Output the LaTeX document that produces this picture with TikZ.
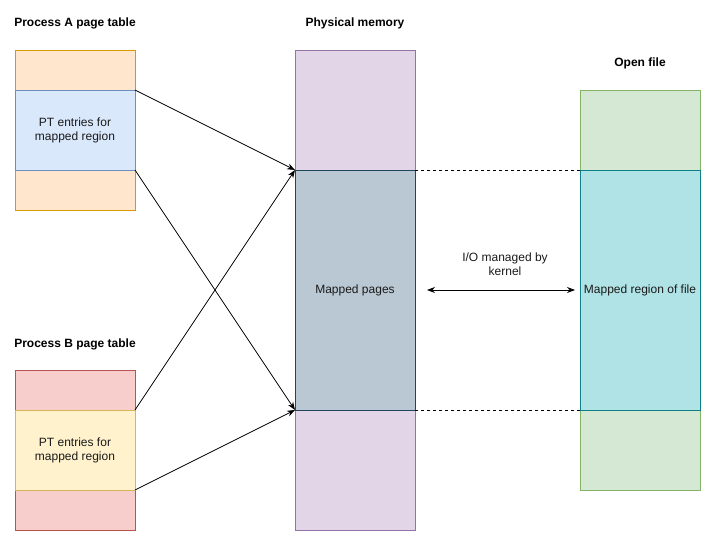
\documentclass[tikz,border=0pt]{standalone}
\usepackage{fontspec}
\setmainfont{Liberation Sans}
\usetikzlibrary{arrows.meta}
\definecolor{orfill}{HTML}{FFE6CC}\definecolor{orline}{HTML}{D79B00}
\definecolor{blfill}{HTML}{DAE8FC}\definecolor{blline}{HTML}{6C8EBF}
\definecolor{rdfill}{HTML}{F8CECC}\definecolor{rdline}{HTML}{B85450}
\definecolor{ylfill}{HTML}{FFF2CC}\definecolor{ylline}{HTML}{D6B656}
\definecolor{pufill}{HTML}{E1D5E7}\definecolor{puline}{HTML}{9673A6}
\definecolor{gyfill}{HTML}{BAC8D3}\definecolor{gyline}{HTML}{23445D}
\definecolor{grfill}{HTML}{D5E8D4}\definecolor{grline}{HTML}{82B366}
\definecolor{cyfill}{HTML}{B0E3E6}\definecolor{cyline}{HTML}{0E8088}
\definecolor{txt}{HTML}{1A1A1A}
\begin{document}
\begin{tikzpicture}[x=1pt,y=-1pt,
  box/.style={draw,minimum width=120pt,inner sep=0pt,outer sep=0pt,anchor=north west,align=center,font=\fontsize{12}{14}\selectfont,text=txt,line width=0.8pt},
  title/.style={font=\bfseries\fontsize{12}{14}\selectfont,anchor=center},
  arr/.style={-{Stealth[length=8pt,width=6pt]},line width=0.8pt},
  dbl/.style={{Stealth[length=8pt,width=6pt]}-{Stealth[length=8pt,width=6pt]},line width=0.8pt},
  dsh/.style={dashed,dash pattern=on 3pt off 3pt,line width=0.8pt}]
\useasboundingbox (0,0) rectangle (715,541);
% Process A
\node[title] (ta) at (75,23.5) {Process A page table};
\node[box,fill=orfill,draw=orline,minimum height=40pt] (a1) at (15,50) {};
\node[box,fill=orfill,draw=orline,minimum height=40pt] (a3) at (15,170) {};
\node[box,fill=blfill,draw=blline,minimum height=80pt] (a2) at (15,90) {PT entries for\\mapped region};
% Process B
\node[title] (tb) at (75,344) {Process B page table};
\node[box,fill=rdfill,draw=rdline,minimum height=40pt] (b1) at (15,370) {};
\node[box,fill=rdfill,draw=rdline,minimum height=40pt] (b3) at (15,490) {};
\node[box,fill=ylfill,draw=ylline,minimum height=80pt] (b2) at (15,410) {PT entries for\\mapped region};
% Physical memory
\node[title] (tm) at (355,23.5) {Physical memory};
\node[box,fill=pufill,draw=puline,minimum height=120pt] (m1) at (295,50) {};
\node[box,fill=pufill,draw=puline,minimum height=120pt] (m3) at (295,410) {};
\node[box,fill=gyfill,draw=gyline,minimum height=240pt] (m2) at (295,170) {Mapped pages};
% Open file
\node[title] (tf) at (640,63.5) {Open file};
\node[box,fill=grfill,draw=grline,minimum height=80pt] (f1) at (580,90) {};
\node[box,fill=grfill,draw=grline,minimum height=80pt] (f3) at (580,410) {};
\node[box,fill=cyfill,draw=cyline,minimum height=240pt] (f2) at (580,170) {Mapped region of file};
% connectors
\draw[arr] (a2.north east) -- (m2.north west);
\draw[arr] (a2.south east) -- (m2.south west);
\draw[arr] (b2.north east) -- (m2.north west);
\draw[arr] (b2.south east) -- (m2.south west);
\draw[dsh] (m2.north east) -- (f2.north west);
\draw[dsh] (m2.south east) -- (f2.south west);
\coordinate (l) at (427,290);
\coordinate (r) at (575,290);
\draw[dbl] (l) -- (r);
\node[font=\fontsize{12}{14}\selectfont,text=txt,align=center] (io) at (505,264) {I/O managed by\\kernel};
\end{tikzpicture}
\end{document}
